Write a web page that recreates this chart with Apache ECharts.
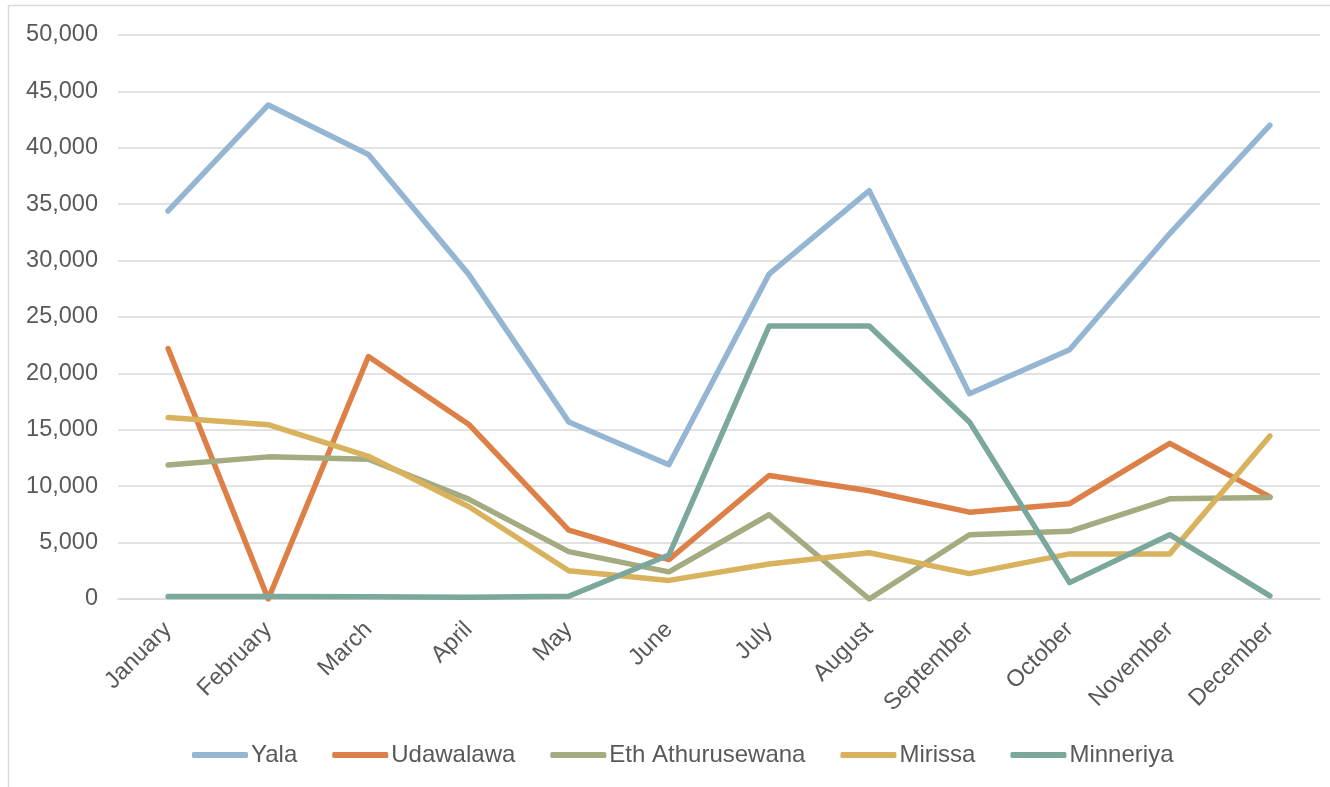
<!DOCTYPE html>
<html>
<head>
<meta charset="utf-8">
<script src="https://cdn.jsdelivr.net/npm/echarts@6/dist/echarts.min.js"></script>
<style>
  html, body { margin: 0; padding: 0; background: #fff; }
  #chart { width: 1330px; height: 787px; }
</style>
</head>
<body>
<div id="chart"></div>
<script>
// Monthly visitor counts by park
const months = ['January', 'February', 'March', 'April', 'May', 'June',
  'July', 'August', 'September', 'October', 'November', 'December'];

const yala = [34400, 43800, 39400, 28800, 15700, 11900, 28800, 36200, 18200, 22100, 32400, 42000];
const udawalawa = [22200, 0, 21500, 15500, 6100, 3500, 10950, 9600, 7700, 8450, 13800, 9050];
const ethAthurusewana = [11870, 12600, 12400, 8850, 4200, 2400, 7470, 0, 5700, 6000, 8880, 9000];
const mirissa = [16100, 15450, 12650, 8200, 2500, 1650, 3100, 4100, 2250, 4000, 4000, 14450];
const minneriya = [230, 220, 210, 150, 250, 3900, 24200, 24200, 15700, 1450, 5700, 280];

const seriesNames = ['Yala', 'Udawalawa', 'Eth Athurusewana', 'Mirissa', 'Minneriya'];
const seriesData = [yala, udawalawa, ethAthurusewana, mirissa, minneriya];
const colors = ['#94B6D2', '#DD8047', '#A5AB81', '#D8B25C', '#7BA79D'];

const font = '"Liberation Sans", Arial, sans-serif';
const textColor = '#595959';
const axisFontSize = 23.5;
const legendFontSize = 24;

const chart = echarts.init(document.getElementById('chart'), null, { renderer: 'canvas' });

chart.setOption({
  animation: false,
  color: colors,
  textStyle: { fontFamily: font },
  graphic: [{
    type: 'rect',
    shape: { x: 8.5, y: 5.5, width: 1340, height: 800 },
    style: { fill: 'none', stroke: '#d9d9d9', lineWidth: 1.5 },
    silent: true
  }],
  grid: { left: 118, right: 10, top: 35, bottom: 188, containLabel: false },
  legend: {
    top: 738,
    left: 187,
    icon: 'roundRect',
    itemWidth: 56,
    itemHeight: 6,
    itemGap: 35,
    textStyle: { fontFamily: font, fontSize: legendFontSize, color: textColor, padding: [0, 0, 0, -2] },
    data: seriesNames
  },
  xAxis: {
    type: 'category',
    data: months,
    boundaryGap: true,
    axisLine: { show: true, lineStyle: { color: '#d9d9d9', width: 1.5 } },
    axisTick: { show: false },
    axisLabel: {
      rotate: 45,
      interval: 0,
      margin: 27,
      fontFamily: font,
      fontSize: axisFontSize,
      color: textColor
    }
  },
  yAxis: {
    type: 'value',
    min: 0,
    max: 50000,
    interval: 5000,
    axisLine: { show: false },
    axisTick: { show: false },
    splitLine: { lineStyle: { color: '#d9d9d9', width: 1.5 } },
    axisLabel: {
      margin: 20,
      fontFamily: font,
      fontSize: axisFontSize,
      color: textColor,
      formatter: v => v.toLocaleString('en-US')
    }
  },
  series: seriesNames.map((name, i) => ({
    name: name,
    type: 'line',
    data: seriesData[i],
    symbol: 'none',
    lineStyle: { width: 5.5, cap: 'round', join: 'round', color: colors[i] },
    itemStyle: { color: colors[i] }
  }))
});
</script>
</body>
</html>
